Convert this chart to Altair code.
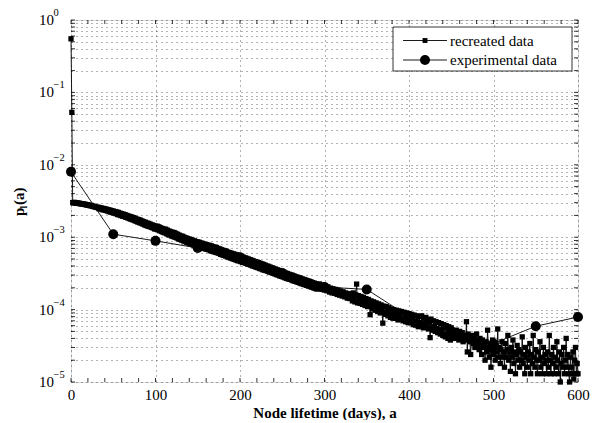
import altair as alt
import pandas as pd

# ---------------- data ----------------
# recreated data, one value per day (units of 1e-6), days 0..600
recreated_e6 = [
    550000, 53000,
    3010, 2980, 3030, 2960, 2990, 2940, 2970, 2920, 2950, 2900,
    2890, 2910, 2860, 2870, 2830, 2850, 2800, 2790, 2810, 2760,
    2740, 2720, 2750, 2690, 2680, 2640, 2660, 2610, 2590, 2570,
    2600, 2480, 2560, 2450, 2530, 2400, 2500, 2380, 2470, 2350,
    2440, 2300, 2400, 2260, 2370, 2220, 2330, 2190, 2300, 2150,
    2260, 2120, 2230, 2060, 2200, 2030, 2150, 1990, 2110, 1950,
    2080, 1930, 2050, 1880, 2000, 1850, 1960, 1810, 1930, 1770,
    1900, 1740, 1860, 1700, 1820, 1660, 1780, 1620, 1750, 1590,
    1720, 1560, 1680, 1520, 1640, 1480, 1610, 1450, 1570, 1420,
    1550, 1400, 1510, 1370, 1480, 1340, 1450, 1300, 1420, 1290,
    1420, 1260, 1390, 1230, 1350, 1200, 1320, 1170, 1290, 1150,
    1290, 1120, 1250, 1090, 1220, 1070, 1190, 1040, 1170, 1020,
    1160, 1000, 1130, 980, 1100, 950, 1070, 930, 1040, 910,
    1030, 890, 1000, 870, 980, 850, 960, 830, 940, 820,
    930, 800, 910, 780, 890, 760, 870, 750, 860, 740,
    850, 730, 830, 710, 820, 700, 800, 690, 790, 680,
    780, 670, 770, 650, 760, 640, 740, 630, 730, 620,
    720, 610, 700, 600, 690, 580, 670, 570, 660, 560,
    650, 550, 640, 535, 620, 525, 610, 515, 600, 505,
    590, 495, 580, 485, 570, 475, 560, 470, 550, 460,
    545, 450, 530, 445, 520, 435, 510, 425, 500, 420,
    490, 410, 480, 400, 470, 395, 460, 385, 455, 380,
    445, 370, 435, 365, 428, 355, 420, 350, 410, 345,
    400, 338, 395, 330, 385, 325, 378, 318, 370, 312,
    362, 305, 355, 300, 348, 292, 340, 288, 335, 282,
    328, 276, 320, 270, 315, 265, 308, 262, 302, 256,
    298, 250, 292, 246, 285, 242, 280, 238, 276, 232,
    270, 228, 265, 224, 260, 220, 255, 216, 250, 212,
    246, 208, 242, 204, 236, 200, 232, 196, 228, 192,
    218, 200, 226, 195, 210, 190, 218, 204, 186, 212,
    198, 182, 206, 190, 175, 198, 186, 170, 194, 178,
    168, 190, 176, 162, 186, 170, 158, 180, 166, 154,
    176, 160, 150, 170, 155, 144, 166, 152, 142, 162,
    162, 132, 170, 138, 128, 160, 225, 124, 156, 134,
    122, 152, 130, 118, 148, 126, 114, 142, 122, 110,
    138, 118, 85, 132, 112, 102, 128, 108, 98, 124,
    106, 94, 120, 100, 90, 116, 97, 65, 112, 92,
    86, 110, 92, 82, 106, 88, 78, 102, 86, 76,
    100, 82, 76, 98, 84, 72, 96, 81, 74, 94,
    77, 70, 92, 75, 68, 90, 76, 66, 88, 73,
    66, 86, 71, 62, 84, 69, 61, 82, 67, 58,
    80, 66, 59, 82, 64, 56, 76, 62, 78, 58,
    72, 54, 68, 41, 74, 56, 52, 70, 58, 50,
    68, 54, 48, 66, 52, 46, 64, 50, 44, 62,
    56, 42, 60, 46, 40, 58, 44, 38, 56, 42,
    50, 44, 40, 48, 52, 42, 46, 38, 50, 44,
    40, 48, 36, 44, 42, 38, 68, 26, 46, 40,
    36, 24, 44, 38, 34, 42, 30, 38, 46, 32,
    36, 28, 40, 32, 24, 38, 30, 34, 20, 36,
    26, 52, 30, 22, 34, 16, 28, 38, 24, 30,
    20, 32, 26, 54, 22, 30, 18, 28, 36, 22,
    26, 16, 34, 22, 28, 44, 20, 26, 14, 30,
    22, 38, 18, 26, 13, 24, 32, 20, 28, 16,
    26, 20, 42, 18, 24, 13, 30, 22, 16, 26,
    20, 34, 13, 24, 18, 44, 22, 16, 28, 20,
    13, 26, 20, 36, 16, 22, 13, 30, 18, 24,
    20, 13, 26, 16, 44, 20, 13, 24, 18, 30,
    13, 22, 16, 36, 20, 13, 26, 10, 18, 24,
    16, 30, 13, 20, 40, 16, 24, 13, 10, 22,
    16, 13, 26, 11, 20, 30, 13, 18, 13,
]
days = list(range(len(recreated_e6)))

exp_days = [0, 50, 100, 150, 200, 250, 300, 350, 400, 450, 500, 550, 600]
exp_vals = [8.0e-3, 1.1e-3, 8.9e-4, 7.1e-4, 5.3e-4, 3.2e-4, 2.05e-4,
            1.9e-4, 8.0e-5, 5.0e-5, 3.4e-5, 5.9e-5, 7.9e-5]

decades = [1e-5, 1e-4, 1e-3, 1e-2, 1e-1, 1.0]
decade_exp = ["−5", "−4", "−3", "−2", "−1", "0"]
x_ticks = [0, 100, 200, 300, 400, 500, 600]
x_minor = list(range(0, 601, 20))
y_grid = [m * 10.0 ** e for e in range(-5, 0) for m in range(1, 10)] + [1.0]
legend_labels = ["recreated data", "experimental data"]

# ---------------- chart ----------------
W, H = 507, 362
FONT = "Liberation Serif"

rec = pd.DataFrame({"a": days, "p": [v * 1e-6 for v in recreated_e6]})
exp = pd.DataFrame({"a": exp_days, "p": exp_vals})

xs = alt.Scale(domain=[0, 600], nice=False, zero=False, padding=0)
ys = alt.Scale(type="log", domain=[1e-5, 1], nice=False, padding=0)

x_axis = alt.Axis(values=x_ticks, format="d", labelFont=FONT, labelFontSize=15,
                  labelColor="black", labelPadding=5, labelFlush=False,
                  labelOverlap=False, ticks=False, domain=False,
                  grid=True, gridDash=[1, 4], gridColor="black", gridOpacity=0.6,
                  title="Node lifetime (days), a", titleFont=FONT, titleFontSize=15,
                  titleFontWeight="bold", titleColor="black", titlePadding=3)
y_axis = alt.Axis(values=y_grid, labels=False, ticks=False, domain=False,
                  grid=True, gridDash=[1, 4], gridColor="black", gridOpacity=0.6,
                  title=None)


def X():
    return alt.X("a:Q", scale=xs, axis=x_axis)


def Y():
    return alt.Y("p:Q", scale=ys, axis=y_axis)


rec_line = alt.Chart(rec).mark_line(color="black", strokeWidth=0.9).encode(x=X(), y=Y())
rec_pts = alt.Chart(rec).mark_point(shape="square", filled=True, color="black",
                                    size=28, opacity=1).encode(x=X(), y=Y())
exp_line = alt.Chart(exp).mark_line(color="black", strokeWidth=0.9).encode(x=X(), y=Y())
exp_pts = alt.Chart(exp).mark_point(shape="circle", filled=True, color="black",
                                    size=100, opacity=1).encode(x=X(), y=Y())

xt = pd.DataFrame({"a": x_minor})
yt = pd.DataFrame({"p": y_grid})
tick_b = alt.Chart(xt).mark_rule(color="black", strokeWidth=0.8).encode(
    x=X(), y=alt.value(H), y2=alt.value(H - 4))
tick_t = alt.Chart(xt).mark_rule(color="black", strokeWidth=0.8).encode(
    x=X(), y=alt.value(0), y2=alt.value(4))
tick_l = alt.Chart(yt).mark_rule(color="black", strokeWidth=0.8).encode(
    y=Y(), x=alt.value(0), x2=alt.value(4))
tick_r = alt.Chart(yt).mark_rule(color="black", strokeWidth=0.8).encode(
    y=Y(), x=alt.value(W), x2=alt.value(W - 4))

dec = pd.DataFrame({"p": decades, "e": decade_exp})
ylab_base = alt.Chart(dec).mark_text(align="left", baseline="middle", font=FONT,
                                     fontSize=15, color="black").encode(
    y=Y(), x=alt.value(-32), text=alt.value("10"))
ylab_exp = alt.Chart(dec).mark_text(align="left", baseline="middle", font=FONT,
                                    fontSize=10.5, color="black", dy=-7).encode(
    y=Y(), x=alt.value(-17.5), text="e:N")

one = pd.DataFrame({"k": [0]})
yt_p = alt.Chart(one).mark_text(angle=270, align="left", baseline="alphabetic",
                                font=FONT, fontSize=15, fontWeight="bold",
                                color="black").encode(
    x=alt.value(-47), y=alt.value(196), text=alt.value("p"))
yt_l = alt.Chart(one).mark_text(angle=270, align="left", baseline="alphabetic",
                                font=FONT, fontSize=10, fontWeight="bold",
                                color="black").encode(
    x=alt.value(-44), y=alt.value(188.5), text=alt.value("l"))
yt_a = alt.Chart(one).mark_text(angle=270, align="left", baseline="alphabetic",
                                font=FONT, fontSize=15, fontWeight="bold",
                                color="black").encode(
    x=alt.value(-47), y=alt.value(185), text=alt.value("(a)"))

# legend
leg_box = alt.Chart(one).mark_rect(fill="white", stroke="black", strokeWidth=0.8).encode(
    x=alt.value(322), x2=alt.value(501), y=alt.value(7), y2=alt.value(51))
leg_layers = []
for lab, shp, sz, yy in zip(legend_labels, ["square", "circle"], [24, 100], [20.5, 40]):
    d = pd.DataFrame({"label": [lab]})
    leg_layers.append(alt.Chart(d).mark_rule(color="black", strokeWidth=0.9).encode(
        x=alt.value(332), x2=alt.value(376), y=alt.value(yy)))
    leg_layers.append(alt.Chart(d).mark_point(shape=shp, filled=True, color="black",
                                              size=sz, opacity=1).encode(
        x=alt.value(354), y=alt.value(yy)))
    leg_layers.append(alt.Chart(d).mark_text(align="left", baseline="middle", font=FONT,
                                             fontSize=15, color="black").encode(
        x=alt.value(379), y=alt.value(yy), text="label:N"))

chart = alt.layer(
    rec_line, rec_pts, exp_line, exp_pts,
    tick_b, tick_t, tick_l, tick_r,
    ylab_base, ylab_exp, yt_p, yt_l, yt_a,
    leg_box, *leg_layers,
).properties(
    width=W, height=H,
    autosize=alt.AutoSizeParams(type="none"),
    padding={"left": 63, "top": 12, "right": 14, "bottom": 38},
).configure_view(
    stroke="black", strokeWidth=1
).configure(background="white")

chart.save("out.html", embed_options={"renderer": "svg", "actions": False})
